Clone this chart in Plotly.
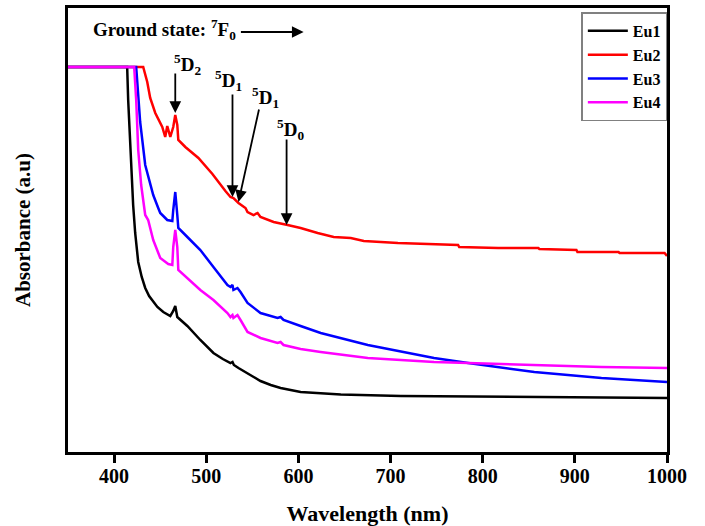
import plotly.graph_objects as go

# ---- data (wavelength nm, absorbance a.u.) ----
eu1_wl = [350, 414.2, 415.3, 417.5, 419.6, 420.7, 422.9, 426.2, 430.0, 433.8, 438.0, 442.5, 447.0,
          453.4, 461.0, 464.2, 466.4, 468.6, 479.5, 493.6, 507.8, 518.0, 526.3, 528.5, 530.0, 535.0,
          544.8, 558.9, 570.0, 580.7, 602.4, 625.0, 646.0, 711.3, 820.1, 928.9, 1000]
eu1_ab = [3.85, 3.85, 3.52, 3.02, 2.62, 2.47, 2.19, 1.90, 1.75, 1.64, 1.56, 1.50, 1.45,
          1.40, 1.36, 1.41, 1.46, 1.35, 1.26, 1.12, 0.99, 0.93, 0.89, 0.90, 0.87, 0.84,
          0.79, 0.71, 0.67, 0.64, 0.60, 0.585, 0.575, 0.56, 0.55, 0.54, 0.54]

eu2_wl = [350, 431.6, 436.0, 439.2, 444.7, 452.3, 455.5, 457.7, 461.0, 464.2, 466.4, 468.6, 469.7,
          477.3, 491.5, 506.7, 520.8, 526.3, 529.5, 535.0, 542.6, 544.8, 551.3, 555.7, 558.9, 573.1,
          588.3, 602.4, 620.9, 638.3, 656.8, 671.0, 708.0, 743.9, 773.3, 774.5, 816.8, 860.3, 861.5,
          901.7, 902.8, 947.4, 948.5, 997.4, 1000]
eu2_ab = [3.85, 3.85, 3.70, 3.54, 3.39, 3.25, 3.15, 3.26, 3.15, 3.25, 3.37, 3.27, 3.12,
          3.05, 2.94, 2.78, 2.61, 2.55, 2.54, 2.49, 2.44, 2.40, 2.37, 2.39, 2.35, 2.30,
          2.27, 2.24, 2.19, 2.15, 2.14, 2.11, 2.09, 2.08, 2.07, 2.05, 2.04, 2.04, 2.03,
          2.02, 2.00, 2.00, 1.99, 1.99, 1.96]

eu3_wl = [350, 424.0, 426.2, 428.3, 433.8, 442.5, 447.9, 450.1, 457.7, 463.2, 464.2, 466.4, 468.6,
          469.7, 479.5, 493.6, 507.8, 523.0, 526.3, 528.5, 529.5, 533.9, 537.2, 544.8, 558.9, 577.4,
          580.7, 583.9, 602.4, 624.2, 675.3, 747.2, 784.2, 856.0, 928.9, 1000]
eu3_ab = [3.85, 3.85, 3.57, 3.30, 2.87, 2.57, 2.44, 2.39, 2.32, 2.31, 2.42, 2.60, 2.37,
          2.24, 2.15, 2.02, 1.85, 1.67, 1.65, 1.67, 1.62, 1.64, 1.60, 1.49, 1.39, 1.34,
          1.35, 1.32, 1.26, 1.19, 1.07, 0.94, 0.89, 0.80, 0.74, 0.70]

eu4_wl = [350, 421.8, 424.0, 426.2, 429.4, 431.6, 433.8, 437.0, 442.5, 450.1, 458.8, 463.2, 464.2,
          466.4, 468.6, 469.7, 479.5, 493.6, 507.8, 523.0, 526.3, 528.5, 529.5, 533.9, 537.2, 544.8,
          558.9, 577.4, 580.7, 583.9, 602.4, 624.2, 675.3, 747.2, 784.2, 856.0, 928.9, 1000]
eu4_ab = [3.85, 3.85, 3.52, 3.02, 2.67, 2.52, 2.37, 2.32, 2.12, 1.94, 1.88, 1.87, 2.05,
          2.22, 2.05, 1.82, 1.74, 1.62, 1.52, 1.39, 1.35, 1.37, 1.34, 1.37, 1.32, 1.20,
          1.14, 1.09, 1.10, 1.07, 1.03, 1.00, 0.94, 0.90, 0.89, 0.87, 0.85, 0.84]

series_names = ["Eu1", "Eu2", "Eu3", "Eu4"]
series_colors = ["#000000", "#ff0000", "#0000ff", "#ff00ff"]
x_ticks = [400, 500, 600, 700, 800, 900, 1000]

# transition labels: (label, arrow tail wl, tail ab, head wl, head ab, label wl, label ab)
transitions = [
    ("<sup>5</sup>D<sub>2</sub>", 466.4, 3.80, 466.4, 3.39, 480.0, 3.88),
    ("<sup>5</sup>D<sub>1</sub>", 528.5, 3.59, 528.5, 2.55, 524.2, 3.72),
    ("<sup>5</sup>D<sub>1</sub>", 557.6, 3.44, 535.0, 2.50, 564.4, 3.55),
    ("<sup>5</sup>D<sub>0</sub>", 587.2, 3.14, 587.2, 2.27, 591.6, 3.23),
]

FONT = "Liberation Serif"

fig = go.Figure()
for name, color, wl, ab in zip(series_names, series_colors,
                               [eu1_wl, eu2_wl, eu3_wl, eu4_wl],
                               [eu1_ab, eu2_ab, eu3_ab, eu4_ab]):
    fig.add_trace(go.Scatter(x=wl, y=ab, mode="lines", name=name,
                             line=dict(color=color, width=2.5)))

ann = []
ann.append(dict(x=454.5, y=4.23, xref="x", yref="y", showarrow=False,
                text="Ground state: <sup>7</sup>F<sub>0</sub>",
                font=dict(family=FONT, size=19, color="black", weight="bold")))
ann.append(dict(x=605.7, y=4.20, ax=536, ay=4.20, xref="x", yref="y", axref="x", ayref="y",
                text="", showarrow=True, arrowhead=2, arrowsize=1.3, arrowwidth=1.8,
                arrowcolor="black"))
for lab, tx, ty, hx, hy, lx, ly in transitions:
    ann.append(dict(x=hx, y=hy, ax=tx, ay=ty, xref="x", yref="y", axref="x", ayref="y",
                    text="", showarrow=True, arrowhead=2, arrowsize=1.3, arrowwidth=1.8,
                    arrowcolor="black"))
    ann.append(dict(x=lx, y=ly, xref="x", yref="y", showarrow=False, text=lab,
                    font=dict(family=FONT, size=19, color="black", weight="bold")))

fig.update_layout(
    width=705, height=526,
    margin=dict(l=68, r=38, t=8, b=74),
    paper_bgcolor="white", plot_bgcolor="white",
    font=dict(family=FONT, color="black"),
    showlegend=True,
    legend=dict(x=0.857, y=0.99, xanchor="left", yanchor="top",
                bordercolor="#808080", borderwidth=1.5, bgcolor="white",
                font=dict(family=FONT, size=16, color="black", weight="bold"),
                itemwidth=40, tracegroupgap=0),
    annotations=ann,
    xaxis=dict(range=[350, 1000], tickvals=x_ticks, ticks="outside", ticklen=8, tickwidth=2.5,
               tickcolor="black", showline=True, linewidth=3, linecolor="black", mirror=True,
               showgrid=False, zeroline=False, automargin=False, ticklabelstandoff=-4,
               tickfont=dict(family=FONT, size=20, color="black", weight="bold"),
               title=dict(text="Wavelength (nm)", standoff=21,
                          font=dict(family=FONT, size=22, color="black", weight="bold"))),
    yaxis=dict(range=[0, 4.44], showticklabels=False, ticks="", showline=True, linewidth=3,
               linecolor="black", mirror=True, showgrid=False, zeroline=False, automargin=False,
               title=dict(text="Absorbance (a.u)", standoff=29,
                          font=dict(family=FONT, size=21, color="black", weight="bold"))),
)

fig.write_html("out.html")
